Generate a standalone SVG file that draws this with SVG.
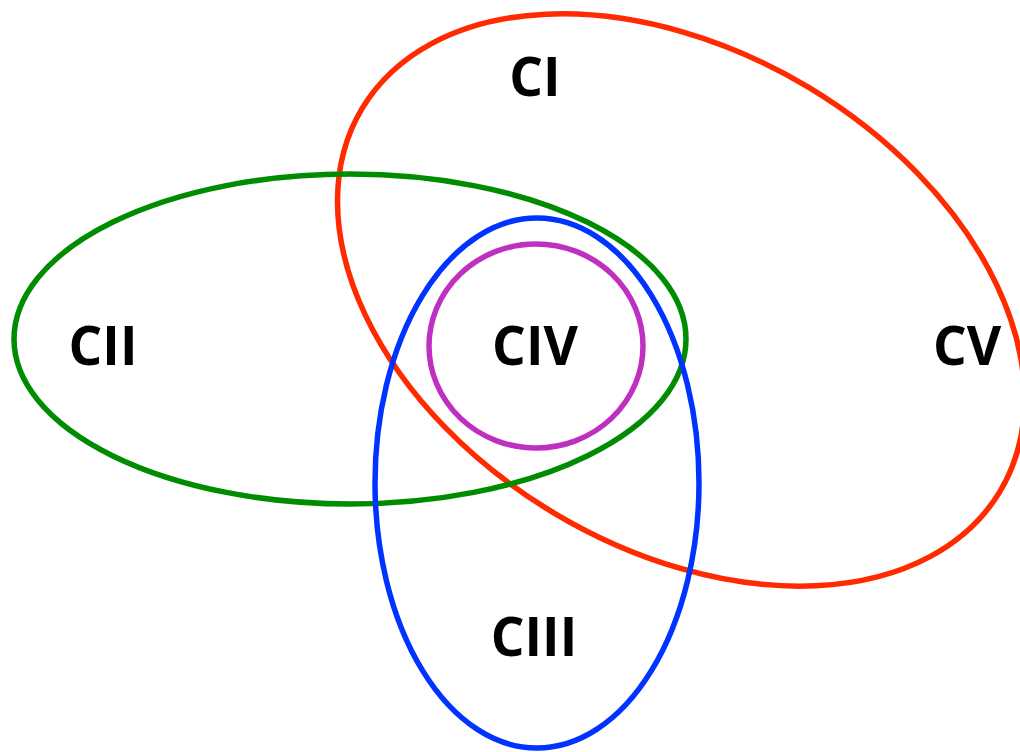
<svg xmlns="http://www.w3.org/2000/svg" width="1020" height="752" viewBox="0 0 1020 752">
<style>
.ring{fill:none;stroke-width:5.5}
.lbl{font-family:"Open Sans","Liberation Sans",sans-serif;font-weight:bold;font-size:53px;fill:#000;text-anchor:middle}
</style>
<rect width="1020" height="752" fill="#fff"/>
<g id="CI"><ellipse class="ring" cx="681" cy="300" rx="372" ry="248" transform="rotate(31 681 300)" stroke="#FF2A00"/><text class="lbl" x="535" y="96">CI</text></g>
<g id="CII"><ellipse class="ring" cx="350" cy="339" rx="336" ry="165" stroke="#008C00"/><text class="lbl" x="103" y="365">CII</text></g>
<g id="CIII"><ellipse class="ring" cx="537" cy="483" rx="162" ry="265" stroke="#0033FF"/><text class="lbl" x="534" y="656">CIII</text></g>
<g id="CIV"><ellipse class="ring" cx="536" cy="346" rx="107" ry="102" stroke="#C030C0"/><text class="lbl" x="535" y="365">CIV</text></g>
<g id="CV"><text class="lbl" x="967" y="365">CV</text></g>
<g id="connectors"></g>
</svg>
